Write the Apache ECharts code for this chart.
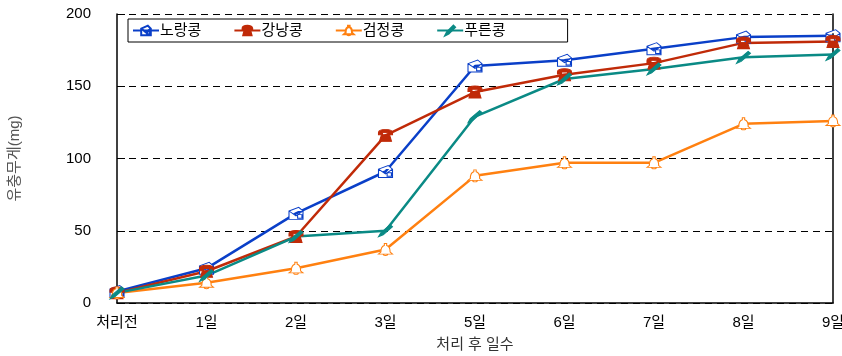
<!DOCTYPE html>
<html>
	<head>
		<meta charset="utf-8">
		<title>유충무게</title>
		<style>
			body { margin: 0; background: #fff; }
		</style>
	</head>
	<body>
		<div id="container" style="width: 842px;height:356px;"></div>
	</body>
	<script src="https://cdn.jsdelivr.net/npm/echarts@6/dist/echarts.min.js"></script>
	<script type="text/javascript">
		'use strict'
		// 데이터
		var days = ['처리전', '1일', '2일', '3일', '5일', '6일', '7일', '8일', '9일'];
		var yellowBean = [8, 24, 62, 91, 164, 168, 176, 184, 185];
		var kidneyBean = [7, 22, 46, 116, 146, 158, 166, 180, 181];
		var blackBean  = [7, 14, 24, 37, 88, 97, 97, 124, 126];
		var greenBean  = [7, 19, 46, 50, 129, 155, 162, 170, 172];

		// 마커 모양 (봉투, 전화기, 종, 펜)
		var envelope = 'path://M0,3 L9,0 L13,3 L13,10 L0,10 Z M0,3 L6.5,7 L13,3 M8,6 L12,6 L12,9 L8,9 Z';
		var phone = 'path://M0,4 C0,0 14,0 14,4 L14,6 L10,6 L10,4 L4,4 L4,6 L0,6 Z M3,6 L11,6 L13,12 L1,12 Z';
		var bell = 'path://M6,0 L8,0 L8,2 C11,3 11,6 11,9 L13,11 L1,11 L3,9 C3,6 3,3 6,2 Z M5,11 C5,13 9,13 9,11';
		var pen = 'path://M0,12 L2,8 L10,0 L12,2 L4,10 Z';

		var myCharts = echarts.init(document.getElementById('container'));

		function makeSeries(name, data, color, symbol, filled) {
			return {
				name: name,
				type: 'line',
				data: data,
				symbol: symbol,
				symbolSize: [14, 12],
				clip: false,
				lineStyle: { color: color, width: 2.5 },
				itemStyle: {
					color: filled ? color : '#fff',
					borderColor: color,
					borderWidth: 1
				}
			};
		}

		var option = {
			animation: false,
			backgroundColor: '#fff',
			textStyle: { fontFamily: 'Arial, "Noto Sans CJK KR", sans-serif' },
			grid: { left: 117, right: 9, top: 14, bottom: 53, outerBoundsMode: 'none', containLabel: false },
			legend: {
				left: 128,
				top: 19,
				padding: [4, 62, 4, 4],
				itemWidth: 26,
				itemHeight: 12,
				itemGap: 32,
				borderColor: '#000',
				borderWidth: 1,
				backgroundColor: '#fff',
				textStyle: { fontSize: 15, color: '#000', padding: [0, 0, 0, -4] },
				data: ['노랑콩', '강낭콩', '검정콩', '푸른콩']
			},
			xAxis: {
				type: 'category',
				data: days,
				boundaryGap: false,
				name: '처리 후 일수',
				nameLocation: 'middle',
				nameGap: 34,
				nameTextStyle: { fontSize: 15, color: '#333' },
				axisLine: { lineStyle: { color: '#000', width: 1.5 } },
				axisTick: { show: false },
				axisLabel: { fontSize: 15, color: '#000', margin: 12 }
			},
			yAxis: [{
				type: 'value',
				min: 0,
				max: 200,
				interval: 50,
				name: '유충무게(mg)',
				nameLocation: 'middle',
				nameGap: 95,
				nameTextStyle: { fontSize: 15, color: '#555' },
				axisLine: { show: true, lineStyle: { color: '#000', width: 1.5 } },
				axisTick: { show: true, inside: true, length: 8, lineStyle: { color: '#000' } },
				axisLabel: { fontSize: 15, color: '#000', margin: 26 },
				splitLine: { lineStyle: { color: '#000', type: [7, 5], width: 1 } }
			}, {
				type: 'value',
				min: 0,
				max: 200,
				interval: 50,
				position: 'right',
				axisLine: { show: true, lineStyle: { color: '#000', width: 1.5 } },
				axisTick: { show: false },
				axisLabel: { show: false },
				splitLine: { show: false }
			}],
			series: [
				makeSeries('노랑콩', yellowBean, '#0a3fc8', envelope, false),
				makeSeries('강낭콩', kidneyBean, '#c02a08', phone, true),
				makeSeries('검정콩', blackBean, '#ff8010', bell, false),
				makeSeries('푸른콩', greenBean, '#0a8a85', pen, true)
			]
		};
		myCharts.setOption(option);
	</script>
</html>
